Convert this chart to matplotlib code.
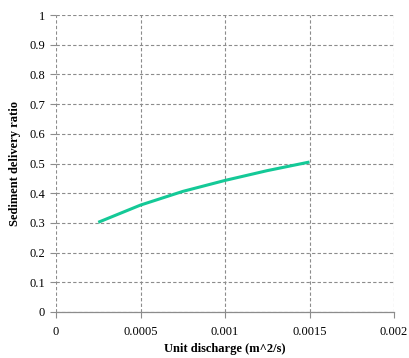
import matplotlib
matplotlib.use("Agg")
import matplotlib.pyplot as plt

# Sediment delivery ratio vs unit discharge
discharge = [0.00025, 0.0005, 0.00075, 0.001, 0.00125, 0.0015]
sdr = [0.302, 0.360, 0.406, 0.443, 0.476, 0.505]

x_ticks = [0, 0.0005, 0.001, 0.0015, 0.002]
x_labels = ["0", "0.0005", "0.001", "0.0015", "0.002"]
y_ticks = [0, 0.1, 0.2, 0.3, 0.4, 0.5, 0.6, 0.7, 0.8, 0.9, 1]
y_labels = ["0", "0.1", "0.2", "0.3", "0.4", "0.5", "0.6", "0.7", "0.8", "0.9", "1"]

plt.rcParams["font.family"] = ["Liberation Serif", "DejaVu Serif"]

fig = plt.figure(figsize=(4.09, 3.58), dpi=100)
ax = fig.add_axes([56 / 409, 1 - 312 / 358, (394 - 56) / 409, (312 - 15) / 358])

ax.plot(discharge, sdr, color="#14c997", linewidth=2.2, solid_capstyle="butt", zorder=3)

ax.set_xlim(0, 0.002)
ax.set_ylim(0, 1)
ax.set_xticks(x_ticks)
ax.set_xticklabels(x_labels)
ax.set_yticks(y_ticks)
ax.set_yticklabels(y_labels)

ax.grid(True, color="#8c8c8c", linestyle=(0, (3, 2)), linewidth=0.8)
for side in ["top", "right", "left"]:
    ax.spines[side].set_visible(False)
ax.spines["bottom"].set_color("#8c8c8c")
ax.spines["bottom"].set_linewidth(0.9)

ax.tick_params(axis="both", colors="#8c8c8c", labelcolor="black", labelsize=9, length=4, width=0.8)
ax.tick_params(axis="x", pad=6)
ax.tick_params(axis="y", pad=4)

ax.set_xlabel("Unit discharge (m^2/s)", fontsize=9, fontweight="bold", labelpad=4)
ax.set_ylabel("Sediment delivery ratio", fontsize=9, fontweight="bold", labelpad=6)

fig.savefig("out.png", dpi=100)
